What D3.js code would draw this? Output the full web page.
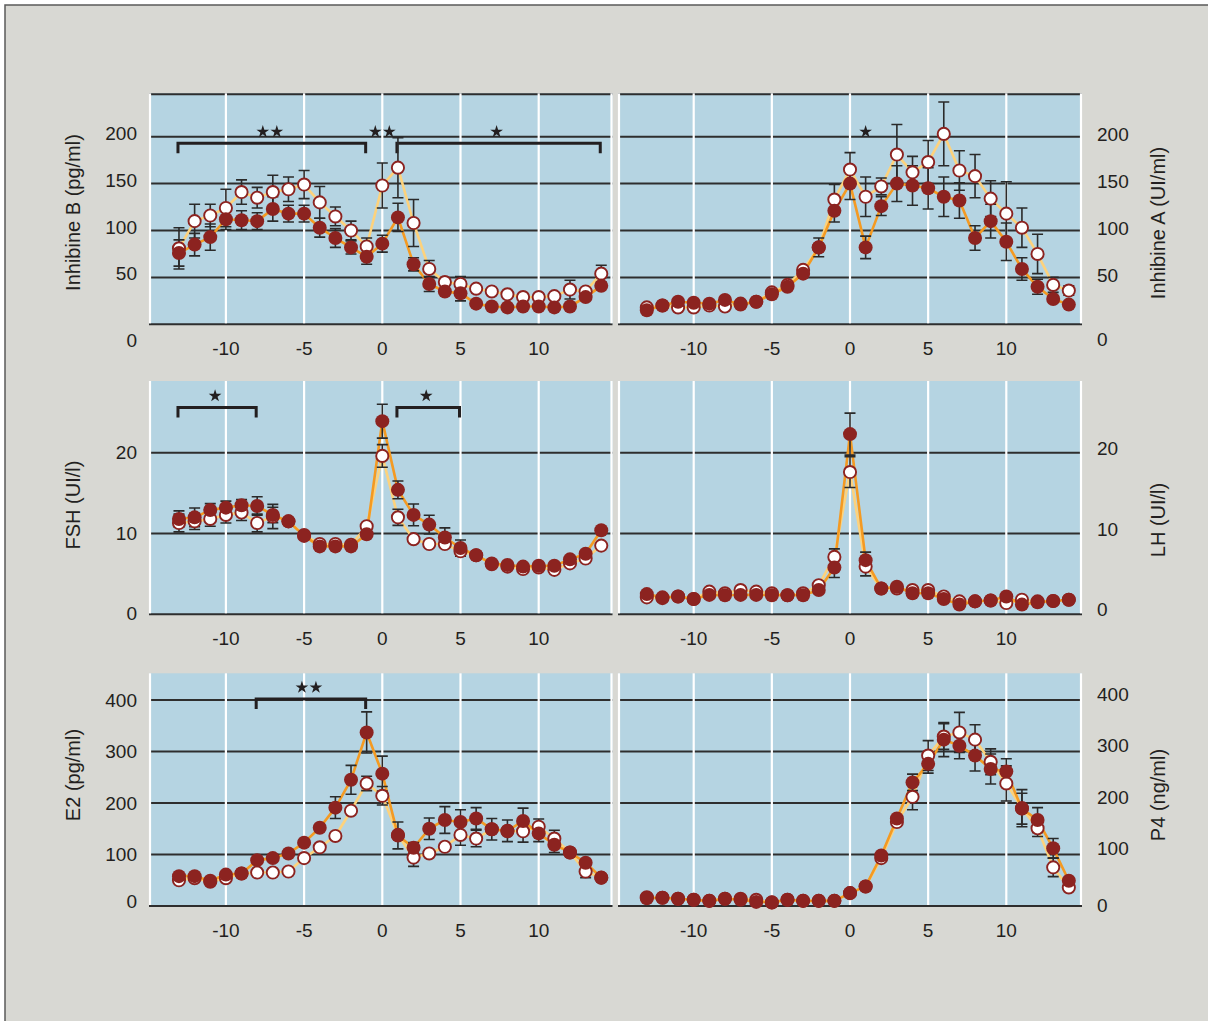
<!DOCTYPE html>
<html><head><meta charset="utf-8">
<script src="https://cdn.jsdelivr.net/npm/d3@7"></script>
<style>
html,body{margin:0;padding:0;background:#ffffff;}
svg{display:block;}
text{font-family:"Liberation Sans",Arial,Helvetica,sans-serif;fill:#231f20;}
</style>
</head><body>
<svg id="chart" width="1208" height="1021"></svg>
<script>
// ---------- data ----------
const days = [-13,-12,-11,-10,-9,-8,-7,-6,-5,-4,-3,-2,-1,0,1,2,3,4,5,6,7,8,9,10,11,12,13,14];
const xTicks = [-10,-5,0,5,10];

const inhTicks = [0,50,100,150,200];
const gonTicks = [0,10,20];
const steroidTicks = [0,100,200,300,400];

// Inhibine B (pg/ml)
const inhBOpen = [81,110,116,124,141,135,141,144,149,130,115,100,83,148,167,108,59,45,43,38,35,32,29,29,30,37,35,54];
const inhBFill = [76,85,93,112,111,110,123,118,118,103,92,82,72,86,114,64,43,35,33,22,19,18,19,19,18,19,29,41];
const inhBOpenErr = [22,18,12,20,13,11,18,13,15,17,10,10,9,24,32,25,9,0,8,0,0,0,0,0,0,10,0,9];
const inhBFillErr = [14,12,14,11,10,9,13,9,9,10,10,7,8,9,15,7,8,0,8,0,0,0,0,0,0,0,0,0];

// Inhibine A (UI/ml)
const inhAOpen = [18,20,18,18,20,19,22,24,34,42,58,82,133,165,136,147,181,162,173,203,164,158,134,118,103,75,42,36];
const inhAFill = [15,20,24,23,22,26,21,24,32,40,54,82,121,150,82,126,150,148,145,136,132,92,110,88,59,40,27,21];
const inhAOpenErr = [0,0,0,0,0,0,0,0,0,0,0,0,16,18,21,9,32,17,23,34,21,23,19,34,21,21,8,5];
const inhAFillErr = [0,0,0,0,0,0,0,0,0,0,0,10,12,17,12,10,19,21,22,21,19,13,18,20,12,8,0,0];

// FSH (UI/l)
const fshOpen = [11.3,11.5,11.8,12.3,12.6,11.3,12.1,11.5,9.8,8.7,8.7,8.6,10.9,19.6,12.0,9.3,8.7,8.7,7.8,7.3,6.2,5.9,5.6,5.8,5.5,6.3,6.9,8.5];
const fshFill = [11.8,12.0,12.9,13.2,13.5,13.4,12.3,11.5,9.7,8.4,8.4,8.4,9.9,23.9,15.4,12.3,11.1,9.5,8.2,7.3,6.3,6.1,5.9,6.0,6.0,6.8,7.5,10.4];
const fshOpenErr = [1.1,1.0,0.9,1.0,1.0,1.1,1.5,0,0,0,0,0,0,1.4,1.0,0,0,0,0,0,0,0,0,0,0,0,0,0];
const fshFillErr = [1.0,1.15,0.8,0.8,0.7,1.15,0.95,0,0,0,0,0,0,2.1,1.1,1.35,1.15,1.2,1.0,0,0,0,0,0,0,0,0,0];

// LH (UI/l)
const lhOpen = [2.1,2.0,2.2,1.9,2.8,2.6,3.0,2.8,2.6,2.35,2.6,3.6,7.1,17.6,5.9,3.2,3.2,3.0,3.0,2.2,1.6,1.6,1.7,1.4,1.8,1.6,1.65,1.8];
const lhFill = [2.5,2.1,2.2,1.9,2.4,2.35,2.4,2.4,2.35,2.35,2.35,3.0,5.8,22.3,6.7,3.2,3.4,2.6,2.6,1.9,1.2,1.6,1.7,2.2,1.2,1.5,1.65,1.8];
const lhOpenErr = [0,0,0,0,0,0,0,0,0,0,0,0,1.0,1.9,1.15,0,0,0,0,0,0,0,0,0,0,0,0,0];
const lhFillErr = [0,0,0,0,0,0,0,0,0,0,0,0,1.25,2.6,1.0,0,0,0,0,0,0,0,0,0,0,0,0,0];

// E2 (pg/ml)
const e2Open = [50,54,47,54,63,65,65,67,93,114,136,185,238,214,138,94,102,115,138,131,149,145,145,154,131,104,67,55];
const e2Fill = [58,58,49,61,63,89,93,102,123,152,191,245,337,257,137,113,150,167,163,170,149,146,165,141,119,104,84,55];
const e2OpenErr = [0,0,0,0,0,0,0,0,0,0,0,0,14,18,0,17,0,0,20,16,0,0,21,15,16,0,12,0];
const e2FillErr = [0,0,0,0,0,0,0,0,0,0,21,28,40,34,26,10,21,26,24,21,21,21,25,16,15,0,0,0];

// P4 (ng/ml)
const p4Open = [17,16,14,12,10,14,14,12,7,12,10,10,10,25,38,93,163,212,292,329,337,323,280,238,190,151,75,36];
const p4Fill = [15,16,14,12,10,14,12,8,7,12,10,10,10,25,38,98,170,240,276,323,311,292,266,261,189,167,112,49];
const p4OpenErr = [0,0,0,0,0,0,0,0,0,0,0,0,0,0,0,0,0,25,29,25,39,29,25,34,36,16,18,0];
const p4FillErr = [0,0,0,0,0,0,0,0,0,0,0,0,0,0,0,0,0,16,18,33,25,30,29,25,30,24,19,0];

// significance annotations (day ranges, number of stars, value level)
const inhBBrackets = [{from:-13,to:-1,n:2},{from:1,to:14,n:1}];
const inhBStars = [{at:0,n:2}];
const inhAStars = [{at:1,n:1}];
const fshBrackets = [{from:-13,to:-8,n:1},{from:1,to:5,n:1}];
const e2Brackets = [{from:-8,to:-1,n:2}];
const inhSigLevel = 193, fshSigLevel = 25.6, e2SigLevel = 402;

// ---------- layout ----------
const svg = d3.select("#chart");
const C = {
  page:"#d8d8d3", frame:"#5a5a5a", panel:"#b5d4e2", grid:"#2e2e2e", vgrid:"#ffffff",
  dark:"#8c2320", openLine:"#fdd27c", fillLine:"#f49a22", err:"#2a2a2a", ink:"#231f20"
};

svg.append("rect").attr("x",5).attr("y",5).attr("width",1230).attr("height",1040)
  .attr("fill",C.page).attr("stroke",C.frame).attr("stroke-width",1.5);

const cols = [
  {x0:149, x1:612.5, zero:382.3, unit:15.64, side:"left"},
  {x0:618, x1:1082, zero:850, unit:15.63, side:"right"}
];
const rows = [
  {y0:93.3, y1:324.3, top:246.3, ticks:inhTicks, topLine:true},
  {y0:381, y1:614.3, top:28.87, ticks:gonTicks, topLine:false},
  {y0:673.3, y1:906, top:451.8, ticks:steroidTicks, topLine:false}
];

const panels = [
  {r:0,c:0,title:"Inhibine B (pg/ml)",titleY:212.5,open:inhBOpen,fill:inhBFill,oErr:inhBOpenErr,fErr:inhBFillErr,brackets:inhBBrackets,stars:inhBStars,level:inhSigLevel,lblDy:3,zeroDy:23},
  {r:0,c:1,title:"Inhibine A (UI/ml)",titleY:223,open:inhAOpen,fill:inhAFill,oErr:inhAOpenErr,fErr:inhAFillErr,brackets:[],stars:inhAStars,level:inhSigLevel,lblDy:4.5,zeroDy:22},
  {r:1,c:0,title:"FSH (UI/l)",titleY:505,open:fshOpen,fill:fshFill,oErr:fshOpenErr,fErr:fshFillErr,brackets:fshBrackets,stars:[],level:fshSigLevel,lblDy:6.5,zeroDy:6},
  {r:1,c:1,title:"LH (UI/l)",titleY:520,open:lhOpen,fill:lhFill,oErr:lhOpenErr,fErr:lhFillErr,brackets:[],stars:[],level:fshSigLevel,lblDy:2.5,zeroDy:2},
  {r:2,c:0,title:"E2 (pg/ml)",titleY:775,open:e2Open,fill:e2Fill,oErr:e2OpenErr,fErr:e2FillErr,brackets:e2Brackets,stars:[],level:e2SigLevel,lblDy:7,zeroDy:2},
  {r:2,c:1,title:"P4 (ng/ml)",titleY:795,open:p4Open,fill:p4Fill,oErr:p4OpenErr,fErr:p4FillErr,brackets:[],stars:[],level:e2SigLevel,lblDy:1,zeroDy:6}
];

const starPath = d3.symbol().type(d3.symbolStar).size(50)();
function drawStars(g, cx, cy, n) {
  const gap = 14;
  for (let k = 0; k < n; k++) {
    const sx = cx + (k - (n-1)/2) * gap;
    g.append("path").attr("d", starPath)
      .attr("transform", `translate(${sx},${cy})`)
      .attr("fill", C.ink);
  }
}

panels.forEach(p => {
  const col = cols[p.c], row = rows[p.r];
  const x = d3.scaleLinear()
    .domain([(col.x0-col.zero)/col.unit, (col.x1-col.zero)/col.unit])
    .range([col.x0, col.x1]);
  const y = d3.scaleLinear().domain([0,row.top]).range([row.y1,row.y0]);
  const g = svg.append("g");

  // background
  g.append("rect").attr("x",col.x0).attr("y",row.y0)
    .attr("width",col.x1-col.x0).attr("height",row.y1-row.y0).attr("fill",C.panel);

  // horizontal grid lines
  g.selectAll(".hg").data(row.ticks).join("line")
    .attr("x1",col.x0).attr("x2",col.x1)
    .attr("y1",d=>y(d)).attr("y2",d=>y(d))
    .attr("stroke",C.grid).attr("stroke-width",2);
  if (row.topLine) {
    g.append("line").attr("x1",col.x0).attr("x2",col.x1)
      .attr("y1",row.y0+1).attr("y2",row.y0+1).attr("stroke",C.grid).attr("stroke-width",2);
  }

  // vertical white lines (ticks + panel edges)
  const vx = xTicks.map(d=>x(d)).concat([col.x0+1, col.x1-1]);
  g.selectAll(".vg").data(vx).join("line")
    .attr("x1",d=>d).attr("x2",d=>d).attr("y1",row.y0).attr("y2",row.y1-1)
    .attr("stroke",C.vgrid).attr("stroke-width",2.2);

  // brackets and stars
  p.brackets.forEach(b => {
    const yy = y(p.level);
    g.append("path")
      .attr("d",`M${x(b.from)-1},${yy+10}V${yy}H${x(b.to)-1}V${yy+10}`)
      .attr("fill","none").attr("stroke",C.ink).attr("stroke-width",3);
    drawStars(g, (x(b.from)+x(b.to))/2 - 3, yy-11.5, b.n);
  });
  p.stars.forEach(s => {
    drawStars(g, x(s.at), y(p.level)-11.5, s.n);
  });

  // x tick labels
  g.selectAll(".xl").data(xTicks).join("text")
    .attr("x",d=>x(d)).attr("y",row.y1+30.5)
    .attr("text-anchor","middle").style("font-size","19px")
    .text(d=>d);

  // y tick labels
  g.selectAll(".yl").data(row.ticks).join("text")
    .attr("x", col.side==="left" ? 137 : 1097)
    .attr("y", d => y(d) + (d===0 ? p.zeroDy : p.lblDy))
    .attr("text-anchor", col.side==="left" ? "end" : "start")
    .style("font-size","19px")
    .text(d=>d);

  // axis title
  const tx = col.side==="left" ? 80 : 1165;
  g.append("text").attr("transform",`translate(${tx},${p.titleY}) rotate(-90)`)
    .attr("text-anchor","middle").style("font-size","20px").text(p.title);

  // data
  const openPts = days.map((d,i)=>({d, v:p.open[i], e:p.oErr[i]}));
  const fillPts = days.map((d,i)=>({d, v:p.fill[i], e:p.fErr[i]}));
  const line = d3.line().x(d=>x(d.d)).y(d=>y(d.v));

  g.append("path").datum(openPts).attr("d",line).attr("fill","none")
    .attr("stroke",C.openLine).attr("stroke-width",2.6).attr("stroke-linejoin","round");
  g.append("path").datum(fillPts).attr("d",line).attr("fill","none")
    .attr("stroke",C.fillLine).attr("stroke-width",2.6).attr("stroke-linejoin","round");

  const errs = openPts.concat(fillPts).filter(d=>d.e>0);
  const eg = g.append("g").attr("stroke",C.err).attr("stroke-width",1.6).attr("fill","none");
  eg.selectAll("path").data(errs).join("path")
    .attr("d",d=>{
      const cx=x(d.d), t=y(d.v+d.e), b=y(d.v-d.e), w=5.5;
      return `M${cx},${t}V${b}M${cx-w},${t}H${cx+w}M${cx-w},${b}H${cx+w}`;
    });

  g.selectAll(".oc").data(openPts).join("circle")
    .attr("cx",d=>x(d.d)).attr("cy",d=>y(d.v)).attr("r",6.1)
    .attr("fill","#ffffff").attr("stroke",C.dark).attr("stroke-width",1.9);
  g.selectAll(".fc").data(fillPts).join("circle")
    .attr("cx",d=>x(d.d)).attr("cy",d=>y(d.v)).attr("r",7)
    .attr("fill",C.dark);
});
</script>
</body></html>
